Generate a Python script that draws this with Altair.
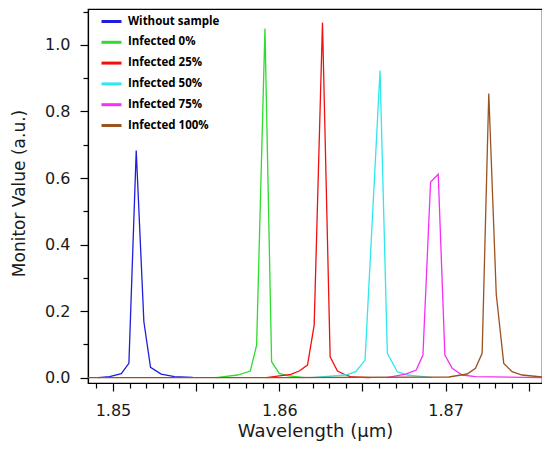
import altair as alt
import pandas as pd

series_names = ["Without sample", "Infected 0%", "Infected 25%", "Infected 50%", "Infected 75%", "Infected 100%"]
series_colors = ["#1f1fdb", "#2edc2e", "#f01010", "#2ee8ee", "#f62ef6", "#9a5220"]

wl_without = [1.8491, 1.8498, 1.8505, 1.85096, 1.8514, 1.85186, 1.85226, 1.8529, 1.8537, 1.8548]
v_without = [0.0, 0.003, 0.012, 0.043, 0.683, 0.168, 0.031, 0.011, 0.003, 0.001]

wl_0 = [1.8562, 1.8575, 1.85826, 1.85864, 1.85914, 1.85954, 1.8600, 1.86048, 1.8615]
v_0 = [0.0, 0.008, 0.02, 0.098, 1.049, 0.048, 0.013, 0.006, 0.0]

wl_25 = [1.85922, 1.8607, 1.8612, 1.8617, 1.8621, 1.8626, 1.86306, 1.8635, 1.8640, 1.86438, 1.8655]
v_25 = [0.0, 0.01, 0.02, 0.038, 0.158, 1.067, 0.063, 0.02, 0.008, 0.002, 0.0]

wl_50 = [1.86192, 1.8640, 1.8646, 1.86516, 1.86606, 1.8665, 1.8671, 1.8677, 1.8692]
v_50 = [0.0, 0.008, 0.018, 0.053, 0.923, 0.073, 0.018, 0.008, 0.0]

wl_75 = [1.86648, 1.8676, 1.86824, 1.86864, 1.8691, 1.86956, 1.86996, 1.8704, 1.8710, 1.8718, 1.8758]
v_75 = [0.0, 0.011, 0.023, 0.068, 0.588, 0.611, 0.068, 0.028, 0.008, 0.003, 0.0]

wl_100 = [1.8485, 1.8600, 1.8702, 1.8713, 1.8718, 1.8722, 1.8726, 1.87305, 1.8735, 1.8740, 1.8746, 1.8758]
v_100 = [0.0, 0.0, 0.002, 0.011, 0.028, 0.073, 0.854, 0.25, 0.043, 0.018, 0.008, 0.002]

x_major_ticks = [1.85, 1.855, 1.86, 1.865, 1.87, 1.875]
x_minor_ticks = [1.849, 1.851, 1.852, 1.853, 1.854, 1.856, 1.857, 1.858, 1.859,
                 1.861, 1.862, 1.863, 1.864, 1.866, 1.867, 1.868, 1.869,
                 1.871, 1.872, 1.873, 1.874]
y_major_ticks = [0.0, 0.2, 0.4, 0.6, 0.8, 1.0]
y_minor_ticks = [0.1, 0.3, 0.5, 0.7, 0.9, 1.1]

all_wl = [wl_without, wl_0, wl_25, wl_50, wl_75, wl_100]
all_v = [v_without, v_0, v_25, v_50, v_75, v_100]

rows = []
for name, wls, vs in zip(series_names, all_wl, all_v):
    for i, (w, v) in enumerate(zip(wls, vs)):
        rows.append({"series": name, "wl": w, "v": v, "idx": i})
df = pd.DataFrame(rows)

xscale = alt.Scale(domain=[1.8485, 1.8758], nice=False, zero=False)
yscale = alt.Scale(domain=[-0.016, 1.108], nice=False, zero=False)

font = "DejaVu Sans"

lines = alt.Chart(df).mark_line(strokeWidth=1.3, clip=True).encode(
    x=alt.X("wl:Q", scale=xscale, axis=alt.Axis(
        orient="bottom", values=x_major_ticks, title="Wavelength (\u00b5m)",
        labelExpr="(round(datum.value*1000) % 10 == 0) ? format(datum.value, '.2f') : ''",
        tickSize=8, labelPadding=11, labelFont=font, labelFontSize=16, labelColor="#1a1a1a",
        titleFont=font, titleFontSize=18, titleFontWeight="normal", titleColor="#1a1a1a",
        titleBaseline="alphabetic", titleY=53, grid=False, labelFlush=False)),
    y=alt.Y("v:Q", scale=yscale, axis=alt.Axis(
        orient="left", values=y_major_ticks, format=".1f", title="Monitor Value (a.u.)",
        tickSize=8, labelPadding=10, labelFont=font, labelFontSize=16, labelColor="#1a1a1a",
        titleFont=font, titleFontSize=17, titleFontWeight="normal", titleColor="#1a1a1a",
        titleBaseline="alphabetic", titleX=-64, titleY=184, titleAngle=-90, grid=False)),
    color=alt.Color("series:N", scale=alt.Scale(domain=series_names, range=series_colors),
                    legend=alt.Legend(orient="none", legendX=12, legendY=1, title=None,
                                      symbolType="stroke", symbolSize=400, symbolStrokeWidth=3,
                                      labelFont="Open Sans", labelFontSize=11.5, labelFontWeight="bold",
                                      labelColor="black", rowPadding=2.8, padding=0, labelOffset=5)),
    order="idx:Q",
)

minor = alt.Chart(df).mark_point(opacity=0).encode(
    x=alt.X("wl:Q", scale=xscale, axis=alt.Axis(
        orient="bottom", values=x_minor_ticks, labels=False, title=None, tickSize=5,
        domain=False, grid=False)),
    y=alt.Y("v:Q", scale=yscale, axis=alt.Axis(
        orient="left", values=y_minor_ticks, labels=False, title=None, tickSize=5,
        domain=False, grid=False)),
)

chart = alt.layer(lines, minor).resolve_axis(x="independent", y="independent").properties(
    width=454, height=374,
    autosize=alt.AutoSizeParams(type="none"),
    padding={"left": 80, "top": 1, "right": 0, "bottom": 59},
).configure_view(stroke="black", strokeWidth=1.2).configure_axis(
    domainColor="black", tickColor="black", domainWidth=1.2, tickWidth=1.2
)

chart.save("out.html", embed_options={"renderer": "svg", "actions": False})
